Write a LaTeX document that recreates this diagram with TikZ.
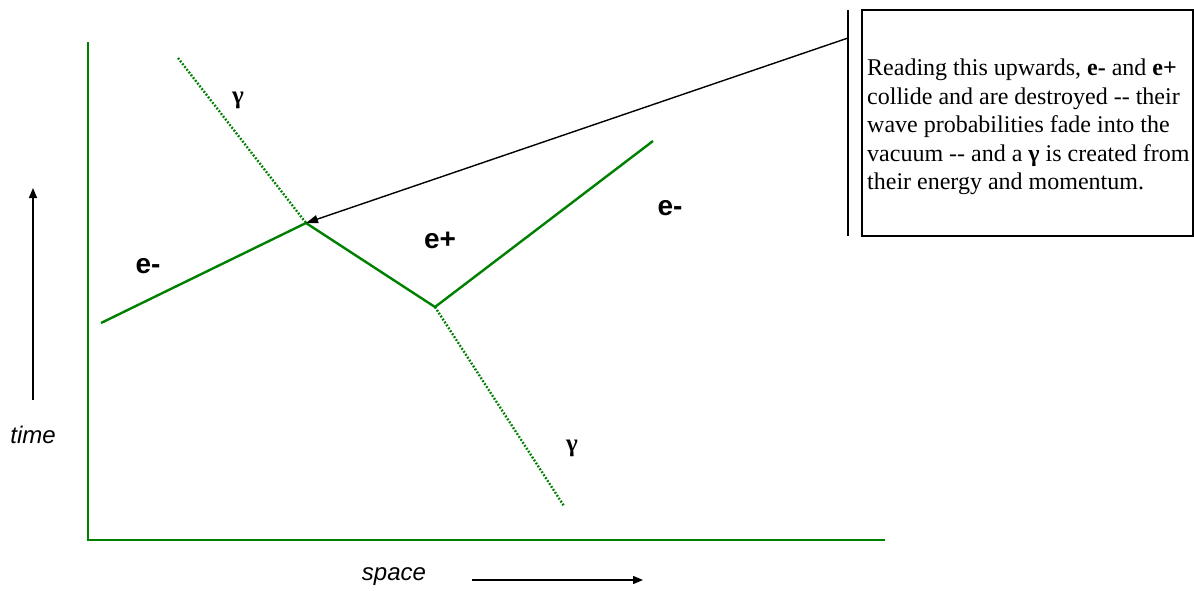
\documentclass[tikz,border=0pt]{standalone}
\usepackage{fontspec}
\setmainfont{Liberation Serif}
\newfontfamily\arialfont{Liberation Sans}
\usetikzlibrary{arrows.meta}
\definecolor{fgreen}{RGB}{0,128,0}
\tikzset{
  world/.style={draw=fgreen, line width=2.4pt},
  photon/.style={draw=fgreen, line width=2.4pt, dash pattern=on 1.8pt off 1.7pt},
  axisline/.style={draw=fgreen, line width=2.4pt},
  particle/.style={font=\arialfont\bfseries\fontsize{28}{28}\selectfont, inner sep=0pt},
  gammalabel/.style={font=\bfseries\fontsize{25}{25}\selectfont, inner sep=0pt},
  axislabel/.style={font=\arialfont\itshape\fontsize{24}{24}\selectfont, inner sep=0pt},
  timearrow/.style={draw=black, line width=1.3pt, -{Triangle[length=10pt,width=8pt]}},
  pointer/.style={draw=black, line width=1.4pt, -{Triangle[length=12pt,width=8pt]}},
  notebox/.style={draw=black, line width=1.3pt, minimum width=331pt, minimum height=226pt, inner sep=0pt},
  notetext/.style={font=\fontsize{24}{28.5}\selectfont, align=left, inner sep=0pt}
}
\begin{document}
\begin{tikzpicture}[x=1pt,y=-1pt]
\useasboundingbox (0,0) rectangle (1194,590);
% axes
\coordinate (O) at (88,540);
\coordinate (Ytop) at (88,42);
\coordinate (Xend) at (885,540);
\draw[axisline] (Ytop) -- (O) -- (Xend);
% vertices and ends
\coordinate (A) at (306,223);
\coordinate (B) at (435,307);
\coordinate (eL) at (101,323);
\coordinate (eR) at (653,141);
\coordinate (gT) at (178,58);
\coordinate (gB) at (564,506);
\draw[world] (eL) -- (A) -- (B) -- (eR);
\draw[photon] (gT) -- (A);
\draw[photon] (B) -- (gB);
% labels
\node[particle] (lblL) at (148,266) {e-};
\node[particle] (lblP) at (440,240) {e+};
\node[particle] (lblR) at (670,208) {e-};
\node[gammalabel] (gamT) at (238,100) {γ};
\node[gammalabel] (gamB) at (572,448) {γ};
% time arrow
\coordinate (tBot) at (33,400);
\coordinate (tTop) at (33,188);
\draw[timearrow] (tBot) -- (tTop);
\node[axislabel] (timelbl) at (33,435) {time};
% space arrow
\coordinate (sL) at (472,580);
\coordinate (sR) at (643,580);
\draw[timearrow] (sL) -- (sR);
\node[axislabel] (spacelbl) at (394,577) {space};
% note box
\node[notebox] (box) at (1027.5,123) {};
\coordinate (barTop) at (848,10);
\coordinate (barBot) at (848,236);
\draw[line width=1.3pt] (barTop) -- (barBot);
\coordinate (barPt) at (848,38);
\draw[pointer] (barPt) -- (A);
\node[notetext, anchor=north west] (note) at (867,59) {Reading this upwards, \textbf{e-} and \textbf{e+}\\
collide and are destroyed -{}- their\\
wave probabilities fade into the\\
vacuum -{}- and a \textbf{γ} is created from\\
their energy and momentum.};
\end{tikzpicture}
\end{document}
